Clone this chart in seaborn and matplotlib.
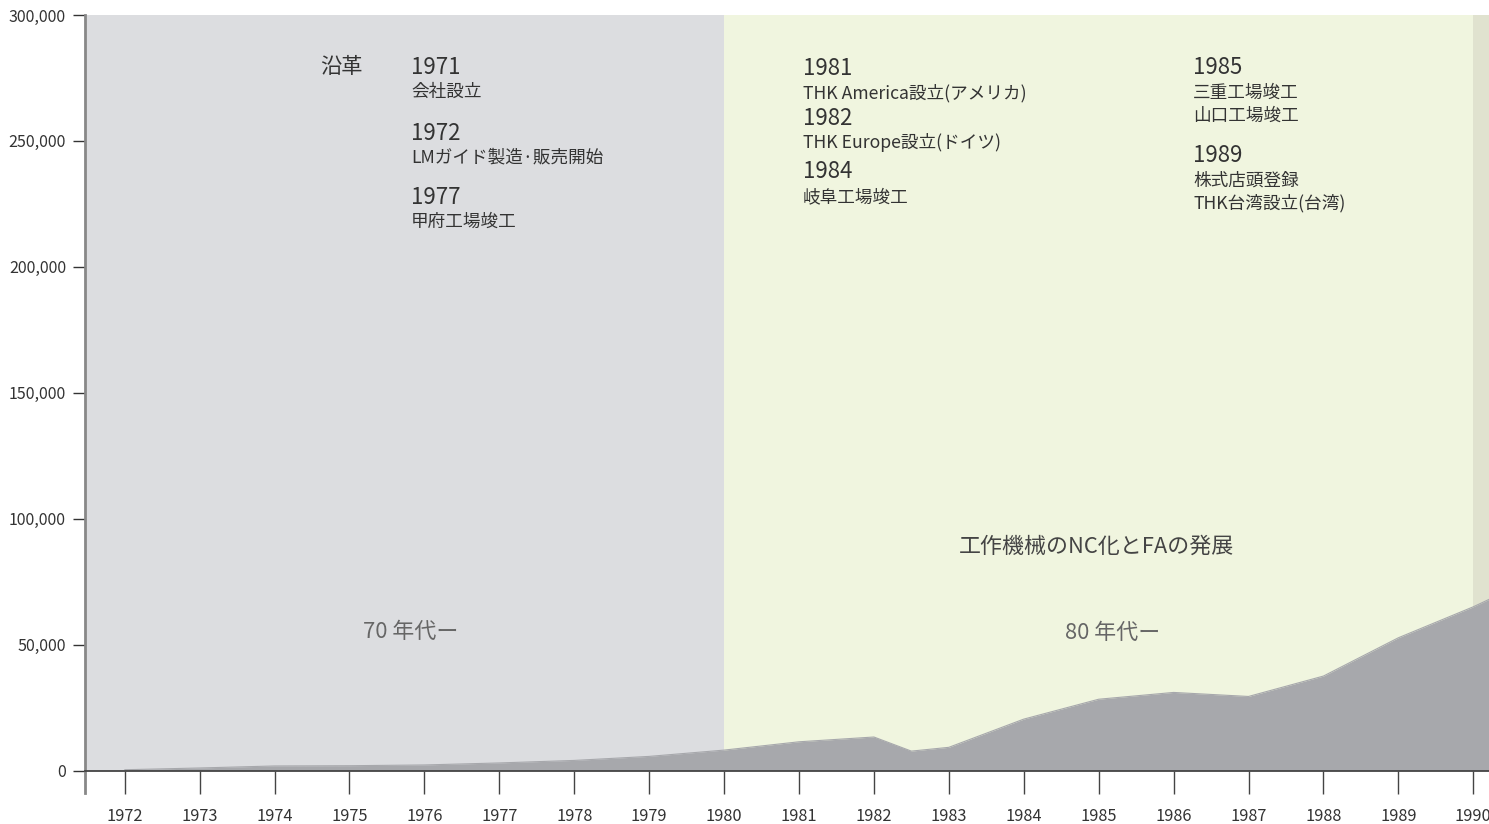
import matplotlib
matplotlib.use("Agg")
import matplotlib.pyplot as plt
import seaborn as sns
import pandas as pd

# ---- data ----
years = [1972, 1973, 1974, 1975, 1976, 1977, 1978, 1979, 1980, 1981, 1982,
         1982.5, 1983, 1984, 1985, 1986, 1987, 1988, 1989, 1990, 1991]
values = [300, 1000, 1800, 1900, 2200, 3000, 4000, 5600, 8100, 11400, 13300,
          7700, 9200, 20400, 28300, 31000, 29400, 37500, 52700, 65000, 79000]
xtick_years = list(range(1972, 1991))
ytick_values = [0, 50000, 100000, 150000, 200000, 250000, 300000]
ytick_labels = ["0", "50,000", "100,000", "150,000", "200,000", "250,000", "300,000"]
decades = ["70 年代ー", "80 年代ー"]
history_70s = [("1971", ["会社設立"]), ("1972", ["LMガイド製造·販売開始"]), ("1977", ["甲府工場竣工"])]
history_80a = [("1981", ["THK America設立(アメリカ)"]), ("1982", ["THK Europe設立(ドイツ)"]),
               ("1984", ["岐阜工場竣工"])]
history_80b = [("1985", ["三重工場竣工", "山口工場竣工"]), ("1989", ["株式店頭登録", "THK台湾設立(台湾)"])]
trend_text = "工作機械のNC化とFAの発展"
title_text = "沿革"

df = pd.DataFrame({"year": years, "value": values})

sns.set_theme(style="white")
plt.rcParams["font.family"] = ["Noto Sans CJK JP", "DejaVu Sans"]

W, H = 1489, 824
fig = plt.figure(figsize=(W / 100, H / 100), dpi=100)
fig.patch.set_facecolor("white")
left_px, top_px, bottom_px = 85, 15, 770.5
ax = fig.add_axes([left_px / W, (H - bottom_px) / H, (W - left_px) / W, (bottom_px - top_px) / H])

xmin, xmax = 1971.47, 1990.21
ax.set_xlim(xmin, xmax)
ax.set_ylim(0, 300000)

# background bands
ax.axvspan(xmin, 1980, color="#dcdde0", lw=0, zorder=0)
ax.axvspan(1980, 1990, color="#f0f5df", lw=0, zorder=0)
ax.axvspan(1990, xmax, color="#e0e2cf", lw=0, zorder=0)

# area
ax.fill_between(df["year"], 0, df["value"], color="#a7a8ac", lw=0, zorder=2)
sns.lineplot(data=df, x="year", y="value", ax=ax, color="#a7a8ac", lw=0.8, zorder=3)

ax.set_xlabel("")
ax.set_ylabel("")
ax.set_xticks(xtick_years)
ax.set_xticklabels([str(y) for y in xtick_years])
ax.set_yticks(ytick_values)
ax.set_yticklabels(ytick_labels)
ax.tick_params(axis="x", direction="out", length=16.5, width=1, color="#444444",
               labelsize=11.8, labelcolor="#333333", pad=10.5)
ax.tick_params(axis="y", direction="out", length=8.6, width=1, color="#333333",
               labelsize=11.5, labelcolor="#333333", pad=5)
ax.tick_params(bottom=True, left=True)

for s in ["top", "right"]:
    ax.spines[s].set_visible(False)
ax.spines["bottom"].set_color("#444444")
ax.spines["bottom"].set_linewidth(1.3)
ax.spines["bottom"].set_zorder(5)
ax.spines["left"].set_color("#888888")
ax.spines["left"].set_linewidth(2)
ax.spines["left"].set_bounds(-9000, 300000)

def ftext(px, py, s, **kw):
    fig.text(px / W, 1 - py / H, s, **kw)

dark = "#333333"
ftext(320, 73, title_text, fontsize=15.3, color=dark, va="baseline")

def block(x, entries, y_years, sub_gap, line_gap):
    for (yr, lines), yb in zip(entries, y_years):
        ftext(x, yb, yr, fontsize=16, color=dark, va="baseline")
        for i, ln in enumerate(lines):
            ftext(x, yb + sub_gap + i * line_gap, ln, fontsize=12.7, color=dark, va="baseline")

block(411, history_70s, [74, 139.5, 204], 23, 23)
block(803, history_80a, [75, 125, 178.3], 23.5, 23)
block(1193, history_80b, [74, 162.3], 23.5, 23)

ftext(1096.5, 553, trend_text, fontsize=15.8, color="#444444", ha="center", va="baseline")
ftext(410.5, 637.5, decades[0], fontsize=15.8, color="#666666", ha="center", va="baseline")
ftext(1112.5, 638.5, decades[1], fontsize=15.8, color="#666666", ha="center", va="baseline")

fig.savefig("out.png", dpi=100, facecolor="white")
